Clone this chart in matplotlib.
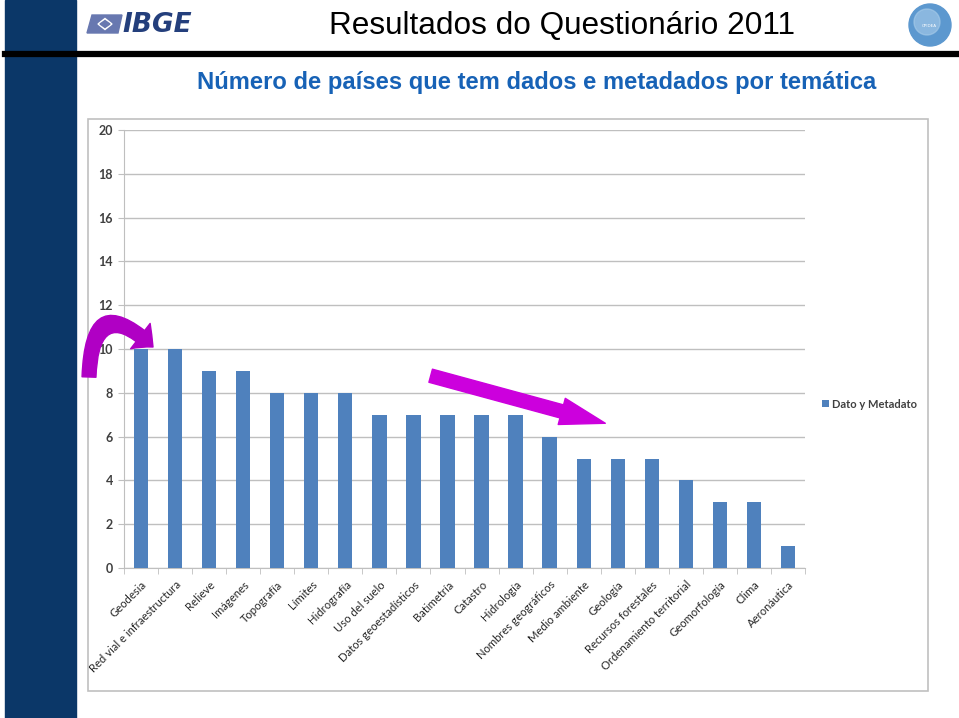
import matplotlib
matplotlib.use('Agg')
import matplotlib.pyplot as plt
from matplotlib.patches import Rectangle, FancyArrowPatch, Ellipse, Polygon
from matplotlib.path import Path

# Datos del gráfico
tematicas = ['Geodesia', 'Red vial e infraestructura', 'Relieve', 'Imágenes', 'Topografía',
             'Límites', 'Hidrografía', 'Uso del suelo', 'Datos geoestadísticos', 'Batimetría',
             'Catastro', 'Hidrología', 'Nombres geográficos', 'Medio ambiente', 'Geología',
             'Recursos forestales', 'Ordenamiento territorial', 'Geomorfología', 'Clima',
             'Aeronáutica']
paises = [10, 10, 9, 9, 8, 8, 8, 7, 7, 7, 7, 7, 6, 5, 5, 5, 4, 3, 3, 1]
serie = 'Dato y Metadato'
y_ticks = [0, 2, 4, 6, 8, 10, 12, 14, 16, 18, 20]

W, H = 959, 718
fig = plt.figure(figsize=(W / 100, H / 100), dpi=100)


def px(x, y):
    # pixel (origen arriba-izquierda) -> fracción de figura
    return x / W, 1 - y / H


# Barra azul lateral y línea negra
fig.patches.append(Rectangle(px(5, 718), 71 / W, 1, transform=fig.transFigure,
                             color='#0b3768', zorder=0))
fig.add_artist(plt.Line2D([5 / W, 956 / W], [1 - 54 / H] * 2, transform=fig.transFigure,
                          color='black', lw=4.5, zorder=1))

# Logo IBGE
fig.patches.append(Polygon([px(92, 15), px(122, 15), px(118, 33), px(87, 33)], closed=True,
                           transform=fig.transFigure, color='#6878b0', zorder=2))
fig.patches.append(Polygon([px(98, 24), px(105, 18.5), px(112, 24), px(105, 29.5)],
                           closed=True, transform=fig.transFigure, color='white', zorder=3))
fig.patches.append(Polygon([px(100, 24), px(105, 20.5), px(110, 24), px(105, 27.5)],
                           closed=True, transform=fig.transFigure, color='#6878b0', zorder=4))
fig.text(*px(122, 24.5), 'IBGE', fontsize=19, fontweight='bold', style='italic',
         color='#243f7c', family='DejaVu Sans', va='center', ha='left')

# Globo
fig.patches.append(Ellipse(px(930, 25), 42 / W, 42 / H, transform=fig.transFigure,
                           color='#5c98cf', zorder=2))
fig.patches.append(Ellipse(px(927, 22), 26 / W, 26 / H, transform=fig.transFigure,
                           color='#a9cdea', alpha=0.6, zorder=3))
fig.text(*px(929, 26), 'CPIDEA', fontsize=3, color='white', ha='center', va='center')

# Títulos
fig.text(*px(562, 26), 'Resultados do Questionário 2011', fontsize=22.7,
         family='Liberation Sans', color='black', ha='center', va='center')
fig.text(*px(537, 83), 'Número de países que tem dados e metadados por temática',
         fontsize=17.1, fontweight='bold', family='Liberation Sans', color='#1762b6',
         ha='center', va='center')

# Marco del gráfico
fig.patches.append(Rectangle(px(88, 691), 840 / W, 572 / H, transform=fig.transFigure,
                             fill=False, ec='#c0c0c0', lw=1.2, zorder=1))

# Gráfico de barras
ax = fig.add_axes([124 / W, 1 - 568 / H, 681 / W, 438 / H])
x = list(range(len(tematicas)))
ax.bar(x, paises, width=0.42, color='#4f81bd', label=serie, zorder=3)
ax.set_xlim(-0.5, len(tematicas) - 0.5)
ax.set_ylim(0, 20)
ax.set_yticks(y_ticks)
ax.set_yticklabels([str(v) for v in y_ticks], family='Lato', fontsize=9,
                   fontweight='bold', color='#404040')
ax.yaxis.grid(True, color='#bfbfbf', lw=1)
ax.set_axisbelow(True)
for s in ['top', 'right']:
    ax.spines[s].set_visible(False)
ax.spines['left'].set_color('#bfbfbf')
ax.spines['bottom'].set_color('#bfbfbf')
ax.tick_params(axis='y', length=4, color='#bfbfbf', pad=4)

ax.set_xticks(x)
ax.set_xticklabels(tematicas, rotation=45, ha='right', va='top', rotation_mode='anchor',
                   family='Lato', fontsize=8.1, color='#262626')
ax.tick_params(axis='x', length=0, pad=8)
ax.set_xticks([i - 0.5 for i in range(len(tematicas) + 1)], minor=True)
ax.tick_params(axis='x', which='minor', length=4, color='#bfbfbf')

leg = fig.legend(loc='center left', bbox_to_anchor=px(812, 404), frameon=False,
                 handlelength=0.6, handleheight=0.6, handletextpad=0.3,
                 prop={'family': 'Lato', 'size': 8, 'weight': 'bold'})
for t in leg.get_texts():
    t.set_color('#404040')

# Flechas
curva = Path([px(89, 377), px(92, 289), px(153, 347)],
             [Path.MOVETO, Path.CURVE3, Path.CURVE3])
flecha1 = FancyArrowPatch(path=curva, transform=fig.transFigure,
                          arrowstyle='simple,head_width=2.3,head_length=1.2,tail_width=1.0',
                          mutation_scale=10, color='#b000c4', zorder=10)
fig.patches.append(flecha1)
flecha2 = FancyArrowPatch(px(428, 375), px(608, 424), transform=fig.transFigure,
                          arrowstyle='simple,head_width=1.5,head_length=2.5,tail_width=0.75',
                          mutation_scale=13, color='#cc00dd', zorder=10)
fig.patches.append(flecha2)

fig.savefig('out.png', dpi=100)
